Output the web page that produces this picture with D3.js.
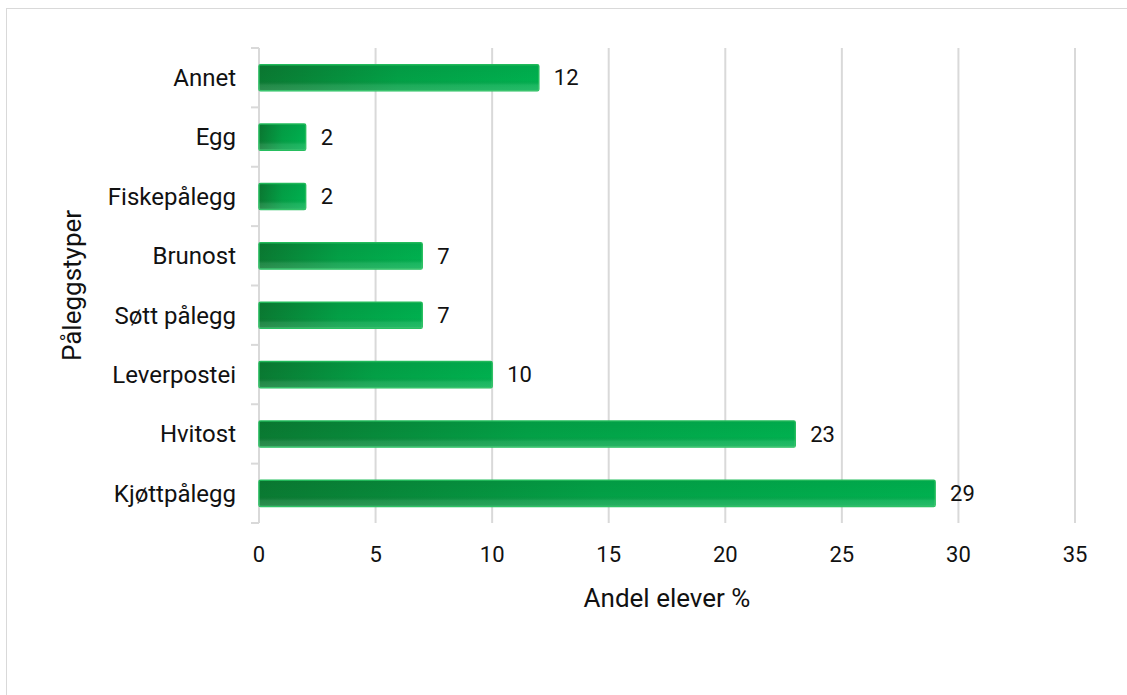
<!DOCTYPE html>
<html>
<head>
<meta charset="utf-8">
<script src="https://cdn.jsdelivr.net/npm/d3@7"></script>
<style>
  body { margin: 0; background: #fff; }
  text { font-family: Roboto, "Noto Sans", sans-serif; fill: #111; }
</style>
</head>
<body>
<div id="chart"></div>
<script>
// data
var categories = ["Annet", "Egg", "Fiskepålegg", "Brunost", "Søtt pålegg", "Leverpostei", "Hvitost", "Kjøttpålegg"];
var values = [12, 2, 2, 7, 7, 10, 23, 29];
var xTicks = [0, 5, 10, 15, 20, 25, 30, 35];
var xTitle = "Andel elever %";
var yTitle = "Påleggstyper";

var width = 1127, height = 695;
var margin = {left: 259, right: 52, top: 48, bottom: 172};

var svg = d3.select("#chart").append("svg")
    .attr("width", width)
    .attr("height", height);

// chart frame
svg.append("rect")
    .attr("x", 6.5).attr("y", 8.5)
    .attr("width", width + 10).attr("height", height + 10)
    .attr("fill", "none").attr("stroke", "#d9d9d9");

var defs = svg.append("defs");
var g1 = defs.append("linearGradient").attr("id", "barFill")
    .attr("x1", 0).attr("y1", 0).attr("x2", 1).attr("y2", 0);
g1.append("stop").attr("offset", 0).attr("stop-color", "#0a7a32");
g1.append("stop").attr("offset", 0.5).attr("stop-color", "#03a046");
g1.append("stop").attr("offset", 1).attr("stop-color", "#00b04f");
var g2 = defs.append("linearGradient").attr("id", "barShade")
    .attr("x1", 0).attr("y1", 0).attr("x2", 0).attr("y2", 1);
g2.append("stop").attr("offset", 0).attr("stop-color", "#000").attr("stop-opacity", 0.04);
g2.append("stop").attr("offset", 0.6).attr("stop-color", "#000").attr("stop-opacity", 0.0);
g2.append("stop").attr("offset", 0.78).attr("stop-color", "#fff").attr("stop-opacity", 0.1);
g2.append("stop").attr("offset", 1).attr("stop-color", "#fff").attr("stop-opacity", 0.15);

var x = d3.scaleLinear()
    .domain([0, 35])
    .range([margin.left, width - margin.right]);

var y = d3.scaleBand()
    .domain(categories)
    .range([margin.top, height - margin.bottom])
    .paddingInner(0.56)
    .paddingOuter(0.28);

// gridlines
svg.append("g").selectAll("line")
    .data(xTicks.slice(1))
    .join("line")
    .attr("x1", function (d) { return x(d); })
    .attr("x2", function (d) { return x(d); })
    .attr("y1", margin.top)
    .attr("y2", height - margin.bottom)
    .attr("stroke", "#d9d9d9")
    .attr("stroke-width", 2);

// x tick labels
svg.append("g").selectAll("text")
    .data(xTicks)
    .join("text")
    .attr("x", function (d) { return x(d); })
    .attr("y", 562)
    .attr("text-anchor", "middle")
    .style("font-size", "22px")
    .text(function (d) { return d; });

// y axis line + band ticks
var bandStep = y.step();
var bounds = d3.range(categories.length + 1).map(function (i) { return margin.top + i * bandStep; });
svg.append("line")
    .attr("x1", x(0)).attr("x2", x(0))
    .attr("y1", margin.top).attr("y2", height - margin.bottom)
    .attr("stroke", "#d9d9d9").attr("stroke-width", 2);
svg.append("g").selectAll("line")
    .data(bounds)
    .join("line")
    .attr("x1", x(0) - 8).attr("x2", x(0))
    .attr("y1", function (d) { return d; })
    .attr("y2", function (d) { return d; })
    .attr("stroke", "#d9d9d9").attr("stroke-width", 2);

// category labels
svg.append("g").selectAll("text")
    .data(categories)
    .join("text")
    .attr("x", x(0) - 23)
    .attr("y", function (d) { return y(d) + y.bandwidth() / 2; })
    .attr("dy", "0.35em")
    .attr("text-anchor", "end")
    .style("font-size", "24px")
    .text(function (d) { return d; });

// bars
var bars = svg.append("g").selectAll("g")
    .data(categories)
    .join("g");
bars.append("rect")
    .attr("x", x(0))
    .attr("y", function (d) { return y(d); })
    .attr("width", function (d, i) { return x(values[i]) - x(0); })
    .attr("height", y.bandwidth())
    .attr("rx", 1.5)
    .attr("fill", "url(#barFill)")
    .attr("stroke", "#22bd5c")
    .attr("stroke-width", 1.5);
bars.append("rect")
    .attr("x", x(0))
    .attr("y", function (d) { return y(d); })
    .attr("width", function (d, i) { return x(values[i]) - x(0); })
    .attr("height", y.bandwidth())
    .attr("fill", "url(#barShade)");

// value labels
svg.append("g").selectAll("text")
    .data(categories)
    .join("text")
    .attr("x", function (d, i) { return x(values[i]) + 15; })
    .attr("y", function (d) { return y(d) + y.bandwidth() / 2; })
    .attr("dy", "0.35em")
    .style("font-size", "22px")
    .text(function (d, i) { return values[i]; });

// axis titles
svg.append("text")
    .attr("x", (x(0) + x(35)) / 2)
    .attr("y", 607)
    .attr("text-anchor", "middle")
    .style("font-size", "26px")
    .text(xTitle);

svg.append("text")
    .attr("transform", "translate(81," + ((margin.top + height - margin.bottom) / 2) + ") rotate(-90)")
    .attr("text-anchor", "middle")
    .style("font-size", "26px")
    .text(yTitle);
</script>
</body>
</html>
